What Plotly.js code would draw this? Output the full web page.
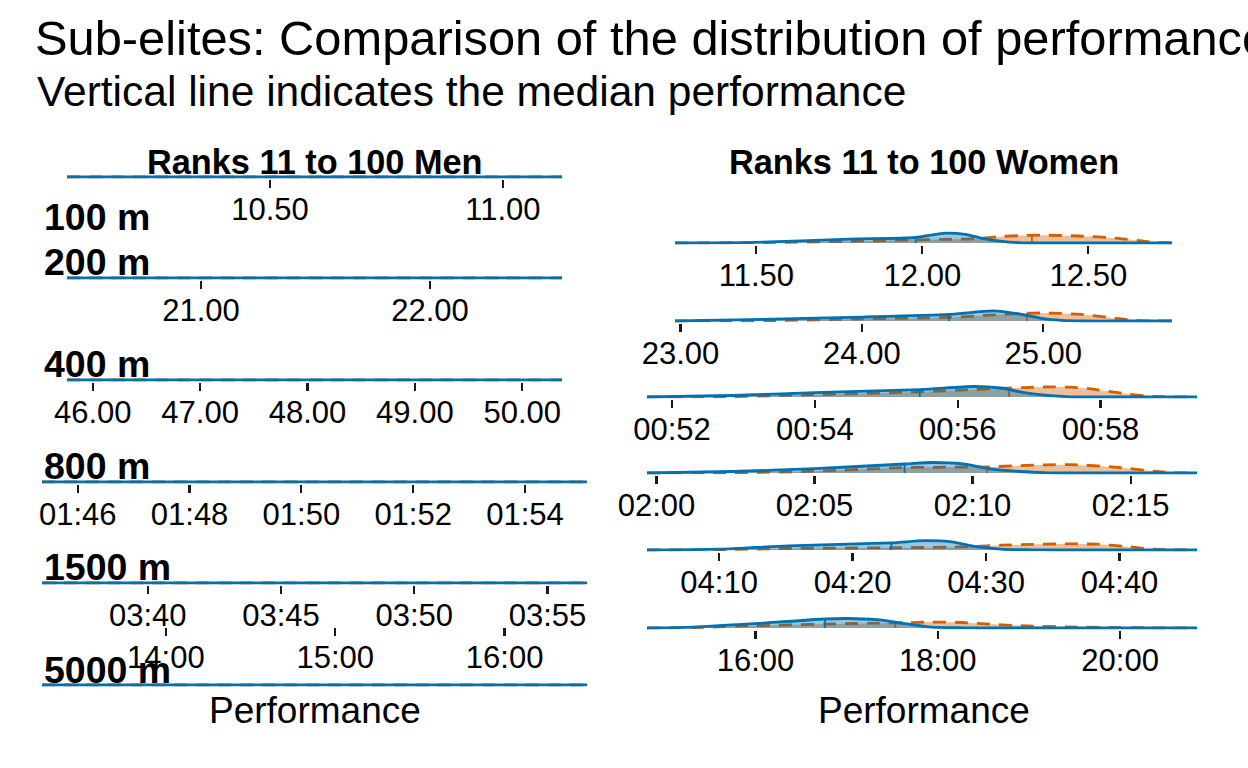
<!DOCTYPE html>
<html>
<head>
<meta charset="utf-8">
<script src="https://cdn.plot.ly/plotly-3.0.1.min.js"></script>
<style>
html,body{margin:0;padding:0;background:#fff;}
#chart{width:1248px;height:768px;}
</style>
</head>
<body>
<div id="chart"></div>
<script>
// ---------------- DATA ----------------
const events = ["100 m", "200 m", "400 m", "800 m", "1500 m", "5000 m"];
const panelTitles = ["Ranks 11 to 100 Men", "Ranks 11 to 100 Women"];
const chartTitle = "Sub-elites: Comparison of the distribution of performance";
const chartSubtitle = "Vertical line indicates the median performance";
const axisTitle = "Performance";

// Men: performance grid (seconds) and densities (flat in the picture)
const men100x = [10.064, 10.5, 11.0, 11.127];
const men200x = [20.415, 21.0, 22.0, 22.576];
const men400x = [45.76, 48.0, 50.37];
const men800x = [105.36, 110.0, 115.11];
const men1500x = [216.03, 226.0, 236.48];
const men5000x = [796.1, 900.0, 989.2];
const men100blue = [0, 0, 0, 0];
const men100orange = [0, 0, 0, 0];
const men200blue = [0, 0, 0, 0];
const men200orange = [0, 0, 0, 0];
const men400blue = [0, 0, 0];
const men400orange = [0, 0, 0];
const men800blue = [0, 0, 0];
const men800orange = [0, 0, 0];
const men1500blue = [0, 0, 0];
const men1500orange = [0, 0, 0];
const men5000blue = [0, 0, 0];
const men5000orange = [0, 0, 0];

const menTickVals = [[10.5, 11.0], [21, 22], [46, 47, 48, 49, 50], [106, 108, 110, 112, 114], [220, 225, 230, 235], [840, 900, 960]];
const menTickText = [["10.50", "11.00"], ["21.00", "22.00"], ["46.00", "47.00", "48.00", "49.00", "50.00"],
  ["01:46", "01:48", "01:50", "01:52", "01:54"], ["03:40", "03:45", "03:50", "03:55"], ["14:00", "15:00", "16:00"]];

// Women: performance grid (seconds) and densities
const women100x = [11.255, 11.49, 11.78, 11.98, 12.07, 12.13, 12.18, 12.24, 12.30, 12.36, 12.47, 12.59, 12.67, 12.752];
const women100blue = [0, 0.6, 3.9, 5.5, 9.9, 8.6, 4.7, 1.6, 0.2, 0, 0, 0, 0, 0];
const women100orange = [0, 0.4, 1.6, 3.1, 3.7, 3.9, 4.7, 6.6, 7.4, 7.8, 7.0, 4.7, 1.6, 0];

const women200x = [22.97, 23.51, 24.0, 24.48, 24.73, 24.88, 25.0, 25.1, 25.21, 25.42, 25.53, 25.71];
const women200blue = [0, 1.8, 3.9, 6.6, 10.1, 6.6, 2.3, 0.6, 0, 0, 0, 0];
const women200orange = [0, 0.4, 2.1, 3.6, 6.2, 7.6, 8.0, 7.6, 6.6, 2.3, 0.3, 0];

const women400x = [51.65, 52.84, 54.0, 55.47, 56.23, 56.6, 56.93, 57.25, 57.58, 57.84, 58.38, 58.76, 59.35];
const women400blue = [0, 1.5, 4.4, 7.4, 10.5, 9.0, 4.4, 1.6, 0.2, 0, 0, 0, 0];
const women400orange = [0, 0.4, 2.3, 5.1, 7.4, 8.6, 9.4, 10.1, 9.8, 8.3, 3.0, 0.6, 0];

const women800x = [119.7, 122.4, 125.0, 127.85, 128.7, 129.7, 130.5, 131.5, 132.4, 133.1, 134.5, 135.8, 136.4, 137.1];
const women800blue = [0, 1.5, 4.4, 9.0, 10.5, 9.0, 4.4, 1.5, 0.2, 0, 0, 0, 0, 0];
const women800orange = [0, 0.3, 1.8, 5.4, 5.7, 5.9, 6.1, 7.4, 8.2, 8.3, 5.9, 1.5, 0.3, 0];

const women1500x = [244.6, 250.0, 255.2, 262.9, 265.4, 267.3, 269.1, 271.1, 273.4, 275.4, 278.3, 280.3, 282.6, 285.8];
const women1500blue = [0, 0.9, 4.1, 7.2, 9.3, 8.3, 3.6, 0.9, 0.2, 0, 0, 0, 0, 0];
const women1500orange = [0, 0.4, 1.5, 2.2, 2.5, 2.8, 3.5, 4.8, 5.6, 6.0, 5.8, 3.8, 0.8, 0];

const women5000x = [888.6, 919, 960, 1005.8, 1020, 1040, 1058, 1076, 1096, 1109, 1134, 1172, 1210, 1250.6];
const women5000blue = [0, 0.9, 4.4, 9.0, 9.5, 8.3, 4.4, 0.9, 0.2, 0, 0, 0, 0, 0];
const women5000orange = [0, 0.4, 2.3, 3.9, 4.3, 4.8, 5.3, 5.9, 5.5, 4.4, 2.3, 0.9, 0.3, 0];

const womenBlueMedian = [11.98, 24.48, 55.47, 127.85, 262.9, 1005.8];
const womenBlueMedianHeight = [5.5, 6.6, 7.4, 9.0, 7.2, 9.0];
const womenOrangeMedian = [12.33, 24.91, 56.72, 130.46, null, 1052];
const womenOrangeMedianHeight = [7.4, 7.8, 9.0, 6.1, null, 5.1];

const womenTickVals = [[11.5, 12.0, 12.5], [23, 24, 25], [52, 54, 56, 58], [120, 125, 130, 135], [250, 260, 270, 280], [960, 1080, 1200]];
const womenTickText = [["11.50", "12.00", "12.50"], ["23.00", "24.00", "25.00"], ["00:52", "00:54", "00:56", "00:58"],
  ["02:00", "02:05", "02:10", "02:15"], ["04:10", "04:20", "04:30", "04:40"], ["16:00", "18:00", "20:00"]];

// ---------------- LAYOUT HELPERS ----------------
const W = 1248, H = 768;
const fx = p => p / W;
const fy = p => 1 - p / H;
const FONT = "Liberation Sans, Arial, Helvetica, sans-serif";
const BLUE = "#0072B2", ORANGE = "#D55E00";
const BLUE_FILL = "rgba(0,114,178,0.4)", ORANGE_FILL = "rgba(213,94,0,0.4)";

const menRows = [
  {x: men100x, b: men100blue, o: men100orange},
  {x: men200x, b: men200blue, o: men200orange},
  {x: men400x, b: men400blue, o: men400orange},
  {x: men800x, b: men800blue, o: men800orange},
  {x: men1500x, b: men1500blue, o: men1500orange},
  {x: men5000x, b: men5000blue, o: men5000orange}
];
const womenRows = [
  {x: women100x, b: women100blue, o: women100orange},
  {x: women200x, b: women200blue, o: women200orange},
  {x: women400x, b: women400blue, o: women400orange},
  {x: women800x, b: women800blue, o: women800orange},
  {x: women1500x, b: women1500blue, o: women1500orange},
  {x: women5000x, b: women5000blue, o: women5000orange}
];

// pixel geometry of each ridge (baseline y, left, right)
const menGeom = [
  {base: 177, l: 67, r: 562}, {base: 278, l: 67, r: 562}, {base: 380, l: 67, r: 562},
  {base: 482, l: 42, r: 587}, {base: 583, l: 42, r: 587}, {base: 685, l: 42, r: 587, axisAt: 627}
];
const womenGeom = [
  {base: 243, l: 675, r: 1172}, {base: 321, l: 675, r: 1172}, {base: 397, l: 647, r: 1197},
  {base: 473, l: 647, r: 1197}, {base: 550, l: 647, r: 1197}, {base: 628, l: 647, r: 1197}
];
const labelY = [217, 262, 364, 466, 567, 670];

const traces = [];
const layout = {
  width: W, height: H,
  margin: {l: 0, r: 0, t: 0, b: 0},
  paper_bgcolor: "#fff", plot_bgcolor: "rgba(0,0,0,0)",
  showlegend: false,
  font: {family: FONT, color: "#000"},
  title: {
    text: chartTitle, x: fx(35), xanchor: "left", xref: "paper",
    y: fy(38), yanchor: "middle", yref: "paper",
    font: {size: 48.8, family: FONT, color: "#000"}
  },
  annotations: []
};

const TOP = 22, BOT = 1.5;
let axisIdx = 0;
function addRow(row, geom, tv, tt, medians) {
  axisIdx++;
  const xa = "x" + axisIdx, ya = "y" + axisIdx;
  const xk = "xaxis" + axisIdx, yk = "yaxis" + axisIdx;
  const xmin = Math.min(...row.x), xmax = Math.max(...row.x);
  layout[xk] = {
    domain: [fx(geom.l), fx(geom.r)],
    range: [xmin, xmax],
    anchor: geom.axisAt ? "free" : ya,
    showgrid: false, zeroline: false, showline: false,
    ticks: "outside", ticklen: 8, tickwidth: 2.2, tickcolor: "#1a1a1a",
    tickmode: "array", tickvals: tv, ticktext: tt,
    tickfont: {size: 31, family: FONT, color: "#000"},
    ticklabelstandoff: -5,
    fixedrange: true
  };
  if (geom.axisAt) layout[xk].position = fy(geom.axisAt);
  layout[yk] = {
    domain: [fy(geom.base + BOT), fy(geom.base - TOP)],
    range: [-BOT, TOP],
    anchor: xa, visible: false, fixedrange: true
  };
  // orange (dashed) density
  traces.push({
    type: "scatter", mode: "lines", x: row.x, y: row.o, xaxis: xa, yaxis: ya,
    line: {color: ORANGE, width: 2.8, dash: "13px,9px", shape: "spline", smoothing: 0.7},
    fill: "tozeroy", fillcolor: ORANGE_FILL, hoverinfo: "skip"
  });
  if (medians && medians.om != null) {
    traces.push({
      type: "scatter", mode: "lines", x: [medians.om, medians.om], y: [0, medians.oh],
      xaxis: xa, yaxis: ya, line: {color: ORANGE, width: 1.8}, hoverinfo: "skip"
    });
  }
  // blue (solid) density
  traces.push({
    type: "scatter", mode: "lines", x: row.x, y: row.b, xaxis: xa, yaxis: ya,
    line: {color: BLUE, width: 2.8, shape: "spline", smoothing: 0.7},
    fill: "tozeroy", fillcolor: BLUE_FILL, hoverinfo: "skip"
  });
  if (medians && medians.bm != null) {
    traces.push({
      type: "scatter", mode: "lines", x: [medians.bm, medians.bm], y: [0, medians.bh],
      xaxis: xa, yaxis: ya, line: {color: BLUE, width: 1.8}, hoverinfo: "skip"
    });
  }
}

for (let i = 0; i < 6; i++) {
  addRow(menRows[i], menGeom[i], menTickVals[i], menTickText[i], null);
}
for (let i = 0; i < 6; i++) {
  addRow(womenRows[i], womenGeom[i], womenTickVals[i], womenTickText[i], {
    bm: womenBlueMedian[i], bh: womenBlueMedianHeight[i],
    om: womenOrangeMedian[i], oh: womenOrangeMedianHeight[i]
  });
}

function ann(text, xpx, ypx, size, bold, xanchor) {
  layout.annotations.push({
    text: bold ? "<b>" + text + "</b>" : text,
    xref: "paper", yref: "paper", x: fx(xpx), y: fy(ypx),
    xanchor: xanchor || "center", yanchor: "middle", showarrow: false,
    font: {size: size, family: FONT, color: "#000"}
  });
}
ann(chartSubtitle, 35, 92, 42.5, false, "left");
ann(panelTitles[0], 315, 162, 34.3, true);
ann(panelTitles[1], 924, 162, 34.3, true);
for (let i = 0; i < 6; i++) ann(events[i], 42, labelY[i], 37.5, true, "left");
ann(axisTitle, 315, 710, 37, false);
ann(axisTitle, 924, 710, 37, false);

Plotly.newPlot("chart", traces, layout, {displayModeBar: false, staticPlot: true});
</script>
</body>
</html>
